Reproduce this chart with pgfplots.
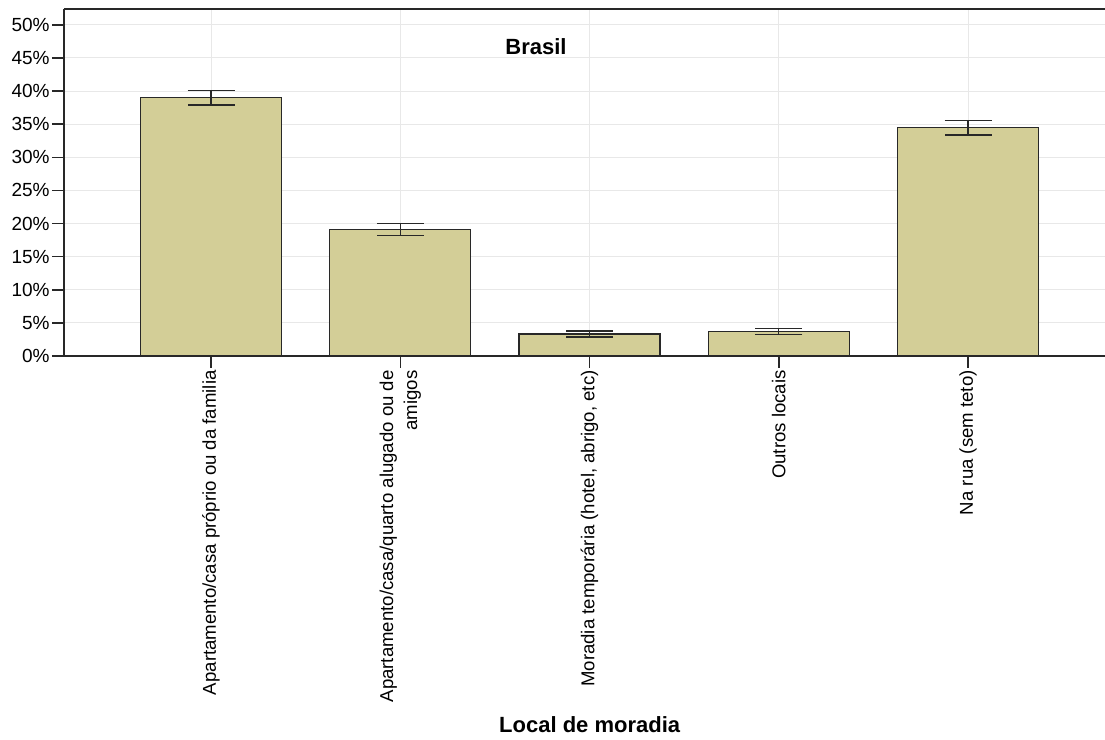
\documentclass[border=0pt]{standalone}
\usepackage{fontspec}
\setmainfont{Liberation Sans}
\usepackage{pgfplots}
\pgfplotsset{compat=1.18}
\definecolor{barfill}{RGB}{211,206,151}
\definecolor{gridc}{RGB}{232,232,232}
\definecolor{axc}{RGB}{40,40,40}
\begin{document}
\begin{tikzpicture}
\begin{axis}[
  name=ax,
  at={(0,0)}, anchor=south west,
  scale only axis,
  width=520.5pt, height=173.5pt,
  xmin=-0.777, xmax=4.724,
  ymin=0, ymax=52.4,
  axis x line*=box, axis y line*=left,
  xtick pos=left, ytick pos=left,
  tick align=outside,
  major tick length=6pt,
  axis line style={axc, line width=0.75pt},
  tick style={axc, line width=0.75pt},
  grid=major,
  grid style={gridc, line width=0.5pt},
  ytick={0,5,10,15,20,25,30,35,40,45,50},
  yticklabels={0\%,5\%,10\%,15\%,20\%,25\%,30\%,35\%,40\%,45\%,50\%},
  yticklabel style={font=\fontsize{9.5}{11}\selectfont, inner sep=1pt},
  xtick={0,1,2,3,4},
  xticklabels={
    Apartamento/casa próprio ou da familia,
    {Apartamento/casa/quarto alugado ou de\\amigos},
    {Moradia temporária (hotel, abrigo, etc)},
    Outros locais,
    Na rua (sem teto)},
  xticklabel style={rotate=90, anchor=east, align=right, font=\fontsize{9.3}{12}\selectfont, inner sep=1pt},
  title={Brasil},
  title style={at={(axis description cs:0.4534,0.856)}, anchor=center, font=\fontsize{11}{13}\selectfont\bfseries},
  xlabel={Local de moradia},
  xlabel style={at={(axis description cs:0.505,0)}, anchor=center, yshift=-184.5pt, font=\fontsize{11}{13}\selectfont\bfseries},
  ybar, bar width=70.5pt,
]
\addplot[ybar, fill=barfill, draw=axc, line width=0.7pt,
  error bars/.cd, y dir=both, y explicit,
  error bar style={line width=0.7pt, color=axc},
  error mark options={rotate=90, line width=0.7pt, mark size=11.75pt, color=axc}]
coordinates {
  (0,39.0) += (0,1.1) -= (0,1.1)
  (1,19.1) += (0,0.9) -= (0,0.9)
  (2,3.3) += (0,0.45) -= (0,0.45)
  (3,3.7) += (0,0.45) -= (0,0.45)
  (4,34.5) += (0,1.1) -= (0,1.1)
};
\end{axis}
\pgfresetboundingbox
\useasboundingbox (ax.south west) ++(-32pt,-192pt) rectangle ([yshift=4.5pt]ax.north east);
\end{tikzpicture}
\end{document}
